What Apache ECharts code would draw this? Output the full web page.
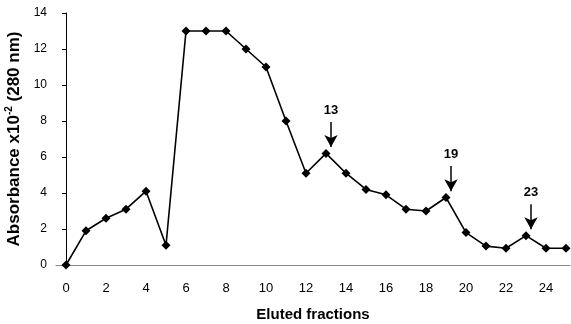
<!DOCTYPE html>
<html>
<head>
<meta charset="utf-8">
<script src="https://cdn.jsdelivr.net/npm/echarts@6/dist/echarts.min.js"></script>
<style>
  html, body { margin: 0; padding: 0; background: #fff; }
  #chart { width: 571px; height: 324px; }
</style>
</head>
<body>
<div id="chart"></div>
<script>
// fraction numbers and absorbance (x10^-2)
const fractions = [0, 1, 2, 3, 4, 5, 6, 7, 8, 9, 10, 11, 12, 13, 14, 15, 16, 17, 18, 19, 20, 21, 22, 23, 24, 25];
const absorbance = [0, 1.9, 2.6, 3.1, 4.1, 1.1, 13, 13, 13, 12, 11, 8, 5.1, 6.2, 5.1, 4.2, 3.9, 3.1, 3.0, 3.75, 1.8, 1.05, 0.93, 1.63, 0.93, 0.93];
const xTickLabels = [0, 2, 4, 6, 8, 10, 12, 14, 16, 18, 20, 22, 24];
const peakFractions = [13, 19, 23];

const chart = echarts.init(document.getElementById('chart'));

// arrows pointing down onto the marked peaks
const arrows = peakFractions.map(f => {
    const y = absorbance[fractions.indexOf(f)];
    return [
        { coord: [f + 0.25, y + 1.75], name: String(f) },
        { coord: [f + 0.25, y + 0.35] }
    ];
});

const option = {
    animation: false,
    grid: { left: 56, right: 1, top: 13, bottom: 59, outerBoundsMode: 'none' },
    xAxis: {
        type: 'value',
        min: -0.5,
        max: 25.2,
        name: 'Eluted fractions',
        nameLocation: 'middle',
        nameGap: 42,
        nameTextStyle: { fontFamily: 'Liberation Sans', fontWeight: 'bold', fontSize: 15, color: '#000' },
        axisLine: { lineStyle: { color: '#888', width: 1 } },
        axisTick: { show: false },
        splitLine: { show: false },
        axisLabel: {
            customValues: xTickLabels,
            fontFamily: 'Liberation Sans',
            fontSize: 13,
            color: '#000',
            margin: 17
        }
    },
    yAxis: {
        type: 'value',
        min: 0,
        max: 14,
        interval: 2,
        name: '{b|Absorbance x10}{sup|-2}{b| (280 nm)}',
        nameLocation: 'middle',
        nameGap: 30,
        nameTextStyle: {
            rich: {
                b: { fontFamily: 'Liberation Sans', fontWeight: 'bold', fontSize: 17, color: '#000' },
                sup: { fontFamily: 'Liberation Sans', fontWeight: 'bold', fontSize: 10, color: '#000', padding: [0, 0, 10, 0] }
            }
        },
        axisLine: { show: true, lineStyle: { color: '#000', width: 1 } },
        axisTick: { show: true, length: 4, lineStyle: { color: '#000' } },
        splitLine: { show: false },
        axisLabel: { fontFamily: 'Liberation Sans', fontSize: 12, color: '#000', margin: 9 }
    },
    series: [
        {
            type: 'line',
            data: fractions.map((f, i) => [f, absorbance[i]]),
            symbol: 'diamond',
            symbolSize: 9,
            itemStyle: { color: '#000' },
            lineStyle: { color: '#000', width: 1.6 },
            markLine: {
                silent: true,
                symbol: ['none', 'arrow'],
                symbolSize: [10, 12],
                lineStyle: { color: '#000', width: 1.5, type: 'solid' },
                label: {
                    show: true,
                    position: 'start',
                    formatter: '{b}',
                    fontFamily: 'Liberation Sans',
                    fontWeight: 'bold',
                    fontSize: 13,
                    color: '#000',
                    distance: 5
                },
                data: arrows
            }
        }
    ]
};

chart.setOption(option);
window.addEventListener('resize', () => chart.resize());
</script>
</body>
</html>
